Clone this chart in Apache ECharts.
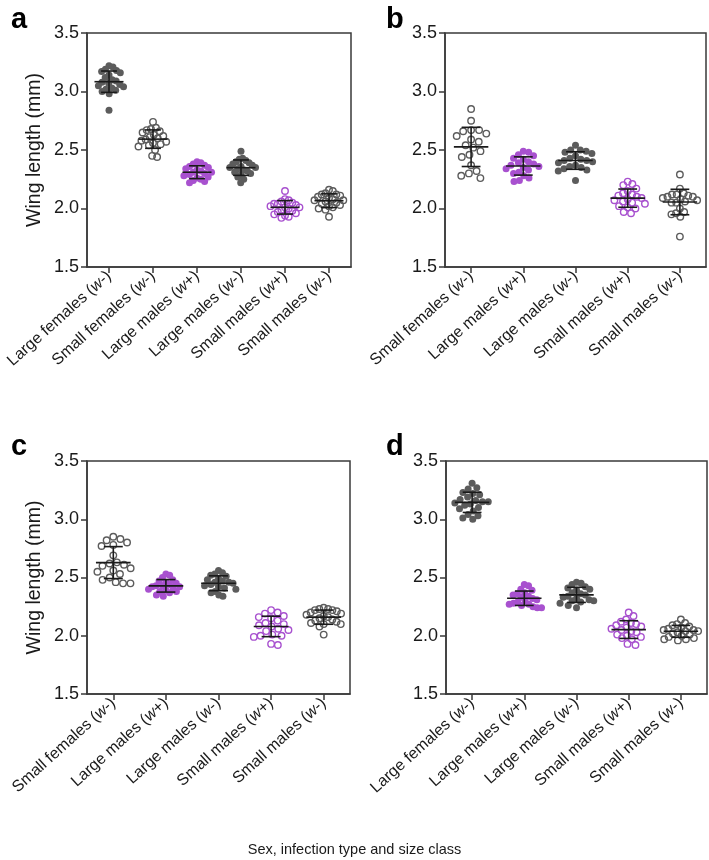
<!DOCTYPE html>
<html><head><meta charset="utf-8">
<script src="https://cdn.jsdelivr.net/npm/echarts@6/dist/echarts.min.js"></script>
<style>html,body{margin:0;padding:0;background:#fff}#chart{width:709px;height:860px}</style>
</head><body><div id="chart"></div>
<script>
// ---------- DATA ----------
const yTicks = [1.5, 2.0, 2.5, 3.0, 3.5];
const categoriesA = ['Large females (w-)', 'Small females (w-)', 'Large males (w+)', 'Large males (w-)', 'Small males (w+)', 'Small males (w-)'];
const categoriesB = ['Small females (w-)', 'Large males (w+)', 'Large males (w-)', 'Small males (w+)', 'Small males (w-)'];
const categoriesC = ['Small females (w-)', 'Large males (w+)', 'Large males (w-)', 'Small males (w+)', 'Small males (w-)'];
const categoriesD = ['Large females (w-)', 'Large males (w+)', 'Large males (w-)', 'Small males (w+)', 'Small males (w-)'];

// panel a
const a_largeFemalesWm = [3.22, 3.21, 3.19, 3.18, 3.17, 3.16, 3.14, 3.12, 3.10, 3.09, 3.08, 3.07, 3.06, 3.05, 3.04, 3.03, 3.02, 3.01, 3.00, 2.98, 2.84];
const a_smallFemalesWm = [2.74, 2.69, 2.68, 2.67, 2.66, 2.65, 2.63, 2.62, 2.61, 2.60, 2.59, 2.58, 2.57, 2.56, 2.55, 2.54, 2.53, 2.50, 2.45, 2.44];
const a_largeMalesWp = [2.40, 2.39, 2.38, 2.37, 2.36, 2.35, 2.34, 2.33, 2.32, 2.31, 2.31, 2.30, 2.29, 2.28, 2.27, 2.26, 2.25, 2.24, 2.23, 2.22];
const a_largeMalesWm = [2.49, 2.43, 2.42, 2.41, 2.40, 2.39, 2.38, 2.37, 2.36, 2.35, 2.35, 2.34, 2.33, 2.32, 2.31, 2.30, 2.29, 2.27, 2.25, 2.22];
const a_smallMalesWp = [2.15, 2.08, 2.07, 2.06, 2.05, 2.04, 2.04, 2.03, 2.02, 2.01, 2.01, 2.00, 1.99, 1.98, 1.97, 1.96, 1.95, 1.94, 1.93, 1.92];
const a_smallMalesWm = [2.16, 2.15, 2.13, 2.12, 2.12, 2.11, 2.10, 2.09, 2.08, 2.07, 2.07, 2.06, 2.05, 2.04, 2.03, 2.02, 2.01, 2.00, 1.99, 1.93];
// panel b
const b_smallFemalesWm = [2.85, 2.75, 2.67, 2.67, 2.66, 2.64, 2.62, 2.59, 2.57, 2.54, 2.52, 2.49, 2.46, 2.44, 2.37, 2.32, 2.30, 2.28, 2.26];
const b_largeMalesWp = [2.49, 2.48, 2.46, 2.45, 2.43, 2.42, 2.40, 2.39, 2.38, 2.37, 2.36, 2.35, 2.34, 2.33, 2.31, 2.30, 2.28, 2.26, 2.24, 2.23];
const b_largeMalesWm = [2.54, 2.50, 2.50, 2.49, 2.48, 2.47, 2.45, 2.43, 2.42, 2.41, 2.41, 2.40, 2.39, 2.37, 2.36, 2.35, 2.34, 2.33, 2.32, 2.24];
const b_smallMalesWp = [2.23, 2.21, 2.20, 2.17, 2.15, 2.13, 2.12, 2.11, 2.10, 2.09, 2.08, 2.07, 2.06, 2.05, 2.04, 2.02, 2.01, 2.00, 1.97, 1.96];
const b_smallMalesWm = [2.29, 2.17, 2.13, 2.12, 2.12, 2.11, 2.10, 2.10, 2.09, 2.08, 2.06, 2.05, 2.07, 2.05, 2.00, 1.97, 1.96, 1.95, 1.93, 1.76];
// panel c
const c_smallFemalesWm = [2.85, 2.83, 2.82, 2.80, 2.78, 2.77, 2.69, 2.63, 2.62, 2.61, 2.60, 2.58, 2.56, 2.55, 2.53, 2.50, 2.48, 2.46, 2.45, 2.45];
const c_largeMalesWp = [2.53, 2.52, 2.50, 2.48, 2.47, 2.46, 2.45, 2.44, 2.43, 2.43, 2.42, 2.42, 2.41, 2.40, 2.39, 2.38, 2.38, 2.37, 2.35, 2.34];
const c_largeMalesWm = [2.56, 2.54, 2.53, 2.52, 2.51, 2.49, 2.48, 2.47, 2.46, 2.46, 2.45, 2.44, 2.43, 2.42, 2.41, 2.40, 2.38, 2.37, 2.35, 2.34];
const c_smallMalesWp = [2.22, 2.20, 2.19, 2.17, 2.16, 2.15, 2.13, 2.11, 2.10, 2.09, 2.08, 2.06, 2.05, 2.04, 2.01, 2.00, 2.00, 1.99, 1.93, 1.92];
const c_smallMalesWm = [2.24, 2.23, 2.23, 2.22, 2.22, 2.21, 2.20, 2.19, 2.18, 2.17, 2.16, 2.15, 2.14, 2.13, 2.12, 2.11, 2.10, 2.10, 2.08, 2.01];
// panel d
const d_largeFemalesWm = [3.31, 3.27, 3.26, 3.23, 3.22, 3.21, 3.19, 3.17, 3.16, 3.15, 3.15, 3.14, 3.13, 3.12, 3.10, 3.09, 3.07, 3.04, 3.03, 3.01, 3.00];
const d_largeMalesWp = [2.44, 2.43, 2.40, 2.39, 2.37, 2.36, 2.35, 2.34, 2.33, 2.32, 2.31, 2.30, 2.29, 2.28, 2.27, 2.27, 2.26, 2.25, 2.24, 2.24];
const d_largeMalesWm = [2.46, 2.45, 2.44, 2.42, 2.41, 2.40, 2.39, 2.37, 2.36, 2.35, 2.34, 2.33, 2.32, 2.31, 2.30, 2.30, 2.29, 2.28, 2.26, 2.24];
const d_smallMalesWp = [2.20, 2.17, 2.14, 2.12, 2.11, 2.10, 2.09, 2.08, 2.07, 2.06, 2.05, 2.04, 2.03, 2.01, 2.00, 1.99, 1.98, 1.97, 1.93, 1.92];
const d_smallMalesWm = [2.14, 2.11, 2.10, 2.09, 2.08, 2.07, 2.06, 2.05, 2.05, 2.04, 2.04, 2.03, 2.02, 2.01, 2.00, 1.99, 1.98, 1.97, 1.97, 1.96];

const panelLetters = ['a', 'b', 'c', 'd'];
const yAxisTitle = 'Wing length (mm)';
const xAxisTitle = 'Sex, infection type and size class';

// ---------- LAYOUT / STYLE ----------
const FONT = '"Liberation Sans", Arial, Helvetica, sans-serif';
const DARK = '#5c5c5c';
const PURPLE = '#a851cf';
const INK = '#1a1a1a';
const SYM = 7;

const panels = [
  { cats: categoriesA, groups: [a_largeFemalesWm, a_smallFemalesWm, a_largeMalesWp, a_largeMalesWm, a_smallMalesWp, a_smallMalesWm],
    grid: { left: 87, top: 33, width: 264, height: 234 }, letter: { left: 6, top: 0 }, yName: true },
  { cats: categoriesB, groups: [b_smallFemalesWm, b_largeMalesWp, b_largeMalesWm, b_smallMalesWp, b_smallMalesWm],
    grid: { left: 445, top: 33, width: 261, height: 234 }, letter: { left: 381, top: 0 }, yName: false },
  { cats: categoriesC, groups: [c_smallFemalesWm, c_largeMalesWp, c_largeMalesWm, c_smallMalesWp, c_smallMalesWm],
    grid: { left: 87, top: 461, width: 263, height: 233 }, letter: { left: 6, top: 427 }, yName: true },
  { cats: categoriesD, groups: [d_largeFemalesWm, d_largeMalesWp, d_largeMalesWm, d_smallMalesWp, d_smallMalesWm],
    grid: { left: 446, top: 461, width: 261, height: 233 }, letter: { left: 381, top: 427 }, yName: false }
];

const yMin = yTicks[0], yMax = yTicks[yTicks.length - 1], yStep = yTicks[1] - yTicks[0];

function meanOf(a) { return a.reduce((s, v) => s + v, 0) / a.length; }
function sdOf(a) { const m = meanOf(a); return Math.sqrt(a.reduce((s, v) => s + (v - m) * (v - m), 0) / (a.length - 1)); }

// beeswarm: horizontal pixel offsets computed from values (layout only)
function beeswarm(values, pxPerUnit, minDist, maxHalf) {
  const idx = values.map((v, i) => i).sort((p, q) => values[q] - values[p]);
  const placed = [];
  const out = new Array(values.length).fill(0);
  let flip = 1;
  idx.forEach(i => {
    const y = values[i] * pxPerUnit;
    const forb = [];
    placed.forEach(p => {
      const dy = Math.abs(p.y - y);
      if (dy < minDist) { const w = Math.sqrt(minDist * minDist - dy * dy); forb.push([p.x - w, p.x + w]); }
    });
    const cands = [0];
    forb.forEach(f => { cands.push(f[0], f[1]); });
    const ok = x => forb.every(f => x <= f[0] + 1e-6 || x >= f[1] - 1e-6);
    let best = null;
    cands.filter(ok).forEach(x => {
      if (best === null || Math.abs(x) < Math.abs(best) - 1e-6 ||
          (Math.abs(Math.abs(x) - Math.abs(best)) < 1e-6 && Math.sign(x) === flip)) best = x;
    });
    if (best !== 0) flip = -flip;
    out[i] = best;
    placed.push({ x: best, y: y });
  });
  const mx = Math.max.apply(null, out.map(Math.abs));
  if (mx > maxHalf) { const f = maxHalf / mx; return out.map(x => x * f); }
  return out;
}

function labelFmt(v) {
  const m = v.match(/^(.*)\(w([+-])\)$/);
  if (!m) return v;
  return m[1] + '({i|w}' + m[2] + ')';
}

function renderMeanSd(params, api) {
  const i = api.value(0), m = api.value(1), s = api.value(2);
  const c = api.coord([i, m]);
  const t = api.coord([i, m + s]);
  const b = api.coord([i, m - s]);
  const band = api.size([1, 0])[0];
  const hm = band * 0.33, hc = band * 0.18;
  const st = { stroke: INK, lineWidth: 1.6 };
  return { type: 'group', children: [
    { type: 'line', shape: { x1: c[0] - hm, y1: c[1], x2: c[0] + hm, y2: c[1] }, style: st },
    { type: 'line', shape: { x1: t[0], y1: t[1], x2: b[0], y2: b[1] }, style: st },
    { type: 'line', shape: { x1: t[0] - hc, y1: t[1], x2: t[0] + hc, y2: t[1] }, style: st },
    { type: 'line', shape: { x1: b[0] - hc, y1: b[1], x2: b[0] + hc, y2: b[1] }, style: st }
  ] };
}

const grid = [], xAxis = [], yAxis = [], series = [], title = [];
panels.forEach((p, k) => {
  grid.push(Object.assign({ show: true, borderColor: '#3a3a3a', borderWidth: 1.5, backgroundColor: 'transparent', containLabel: false, outerBoundsMode: 'none' }, p.grid));
  xAxis.push({
    type: 'category', gridIndex: k, data: p.cats, boundaryGap: true,
    axisLine: { show: true, lineStyle: { color: '#3a3a3a', width: 1.5 } },
    axisTick: { show: true, alignWithLabel: true, length: 6, lineStyle: { color: '#3a3a3a', width: 1.5 } },
    axisLabel: { show: true, interval: 0, rotate: 42, margin: 7, color: '#1a1a1a', fontSize: 16, fontFamily: FONT,
      formatter: labelFmt, rich: { i: { fontStyle: 'italic', fontSize: 16, fontFamily: FONT, color: '#1a1a1a' } } },
    splitLine: { show: false }
  });
  yAxis.push({
    type: 'value', gridIndex: k, min: yMin, max: yMax, interval: yStep,
    name: p.yName ? yAxisTitle : '', nameLocation: 'middle', nameGap: 42, nameRotate: 90,
    nameTextStyle: { fontSize: 19.5, fontFamily: FONT, color: '#1a1a1a' },
    axisLine: { show: true, lineStyle: { color: '#3a3a3a', width: 1.5 } },
    axisTick: { show: true, length: 6, lineStyle: { color: '#3a3a3a', width: 1.5 } },
    axisLabel: { show: true, margin: 8, fontSize: 18, fontFamily: FONT, color: '#1a1a1a', formatter: v => v.toFixed(1) },
    splitLine: { show: false }
  });
  const pxPerUnit = p.grid.height / (yMax - yMin);
  const band = p.grid.width / p.cats.length;
  p.groups.forEach((vals, gi) => {
    const cat = p.cats[gi];
    const col = /w\+/.test(cat) ? PURPLE : DARK;
    const filled = /^Large/.test(cat);
    const offs = beeswarm(vals, pxPerUnit, 8, band * 0.33);
    series.push({
      type: 'scatter', xAxisIndex: k, yAxisIndex: k, symbol: 'circle', symbolSize: filled ? SYM : SYM - 0.5,
      itemStyle: filled ? { color: col, opacity: 1 } : { color: 'rgba(255,255,255,0)', borderColor: col, borderWidth: 1.4, opacity: 1 },
      emphasis: { disabled: true }, silent: true, animation: false, z: 2,
      data: vals.map((v, j) => ({ value: [gi, v], symbolOffset: [offs[j], 0] }))
    });
  });
  series.push({
    type: 'custom', xAxisIndex: k, yAxisIndex: k, renderItem: renderMeanSd, z: 5, silent: true, animation: false,
    encode: { x: 0, y: 1 },
    data: p.groups.map((vals, gi) => [gi, meanOf(vals), sdOf(vals)])
  });
  title.push({ text: panelLetters[k], left: p.letter.left, top: p.letter.top,
    textStyle: { fontSize: 29, fontWeight: 'bold', fontFamily: FONT, color: '#000' } });
});
title.push({ text: xAxisTitle, left: 'center', top: 837, textStyle: { fontSize: 14.5, fontWeight: 'normal', fontFamily: FONT, color: '#1a1a1a' } });

const chart = echarts.init(document.getElementById('chart'), null, { renderer: 'canvas' });
chart.setOption({ animation: false, backgroundColor: '#fff', title, grid, xAxis, yAxis, series, tooltip: { show: false } });
</script>
</body></html>
